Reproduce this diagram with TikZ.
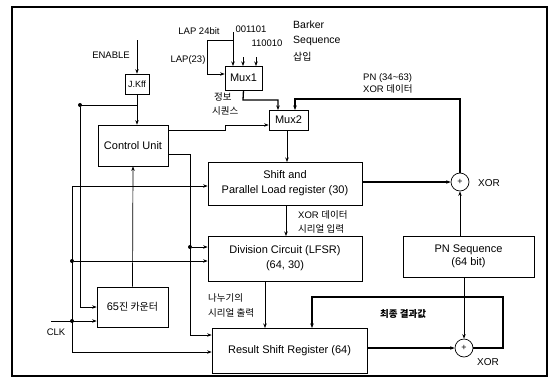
\documentclass[tikz,border=0pt]{standalone}
\usepackage{fontspec}
\setmainfont{Liberation Sans}
\newfontfamily\kr{Noto Sans CJK KR}
\usetikzlibrary{arrows.meta}
\begin{document}
\begin{tikzpicture}[x=1pt,y=-1pt,
  box/.style={draw,line width=0.7pt,inner sep=0pt,align=center,font=\fontsize{11}{14}\selectfont},
  lbl/.style={inner sep=0pt,font=\fontsize{9.5}{11}\selectfont},
  klbl/.style={inner sep=0pt,font=\kr\fontsize{9.5}{11}\selectfont},
  conn/.style={line width=0.7pt},
  tconn/.style={line width=1.3pt},
  arr/.style={-{Stealth[length=4.5pt,width=3.5pt]}},
  xorc/.style={draw,circle,line width=0.7pt,minimum size=18pt,inner sep=0pt,font=\fontsize{9}{9}\selectfont},
  dot/.style={circle,fill,inner sep=0pt,minimum size=4pt}]
\useasboundingbox (0,0) rectangle (551,378);
\draw[line width=1.5pt] (12,7) rectangle (547,376);

% nodes
\node[box,minimum width=24pt,minimum height=20pt,font=\fontsize{9}{10}\selectfont] (jk) at (137,84) {J.Kff};
\node[box,minimum width=70pt,minimum height=41pt] (cu) at (133,145.5) {Control Unit};
\node[box,minimum width=37pt,minimum height=24pt] (mux1) at (243.5,78) {Mux1};
\node[box,minimum width=39pt,minimum height=20pt] (mux2) at (288.5,120) {Mux2};
\node[box,minimum width=154pt,minimum height=43pt,font=\fontsize{11}{15}\selectfont] (spl) at (285,183.5) {Shift and\\Parallel Load register (30)};
\node[box,minimum width=154pt,minimum height=45pt,font=\fontsize{11}{15}\selectfont] (div) at (285,258.5) {Division Circuit (LFSR)\\(64, 30)};
\node[box,minimum width=71pt,minimum height=40pt] (cnt) at (132.5,307) {65{\kr\fontsize{10}{12}\selectfont 진 카운터}};
\node[box,minimum width=155pt,minimum height=45pt] (rsr) at (289.5,350.5) {Result Shift Register (64)};
\node[box,minimum width=131pt,minimum height=41pt,font=\fontsize{11}{12.5}\selectfont] (pn) at (468.5,256.5) {PN Sequence\\(64 bit)};
\node[xorc] (x1) at (460,182) {+};
\node[xorc] (x2) at (464,348) {+};

% labels
\node[lbl] (enl) at (111,55) {ENABLE};
\node[lbl] (lap24) at (199,31) {LAP 24bit};
\node[lbl] (lap23) at (188,60) {LAP(23)};
\node[lbl] (b1) at (251,29) {001101};
\node[lbl] (b2) at (267,43) {110010};
\node[lbl,anchor=west,font=\fontsize{10.5}{12}\selectfont] (bk1) at (293,25) {Barker};
\node[lbl,anchor=west,font=\fontsize{10.5}{12}\selectfont] (bk2) at (293,41) {Sequence};
\node[klbl,anchor=west,font=\kr\fontsize{10}{12}\selectfont] (bk3) at (293,57) {삽입};
\node[klbl,anchor=west] (jb1) at (214,97) {정보};
\node[klbl,anchor=west] (jb2) at (212,111) {시퀀스};
\node[lbl,anchor=west] (pnl1) at (363,78) {PN (34\textasciitilde63)};
\node[lbl,anchor=west] (pnl2) at (363,89) {XOR {\kr\fontsize{9.5}{11}\selectfont 데이터}};
\node[lbl,anchor=west,font=\fontsize{10}{12}\selectfont] (xl1) at (478,183) {XOR};
\node[lbl,anchor=west] (xd1) at (298,215) {XOR {\kr\fontsize{9.5}{11}\selectfont 데이터}};
\node[klbl,anchor=west] (xd2) at (298,229) {시리얼 입력};
\node[klbl,anchor=west] (nd1) at (208,298) {나누기의};
\node[klbl,anchor=west] (nd2) at (208,313) {시리얼 출력};
\node[klbl,anchor=west,font=\kr\bfseries\fontsize{9.5}{11}\selectfont] (fin) at (380,314) {최종 결과값};
\node[lbl,anchor=west,font=\fontsize{10}{12}\selectfont] (xl2) at (477,362) {XOR};
\node[lbl] (clkl) at (56,332) {CLK};

% coordinates
\coordinate (en) at (137,40);
\coordinate (lapin) at (233,32);
\coordinate (clk) at (51,321);

% ENABLE / JK / control
\draw[conn,arr] (en) -- (jk.north);
\draw[conn,arr] (jk.south) -- (jk.south |- cu.north);
\draw[conn] (80,105) -- (137,105);
\node[dot] (d1) at (80,105) {};
\draw[conn,arr] (d1) -- (80,307) -- (cnt.west |- 0,307);
\draw[conn,arr] (cu.east |- 0,130) -- (225,130) -- (225,125) -- (mux2.west |- 0,125);
\draw[conn,arr] (cu.east |- 0,154) -- (190,154) -- (190,335) -- (rsr.west |- 0,335);
\node[dot] (d2) at (190,247) {};
\draw[conn,arr] (d2) -- (div.west |- 0,247);
\draw[conn,arr] (cnt.north) -- (cu.south);

% CLK distribution
\draw[conn,arr] (clk) -- (cnt.west |- 0,321);
\node[dot] (d3) at (72,321) {};
\node[dot] (d4) at (72,261) {};
\draw[conn,arr] (72,352) -- (72,186) -- (spl.west |- 0,186);
\draw[conn,arr] (d4) -- (div.west |- 0,261);
\draw[conn,arr] (72,352) -- (rsr.west |- 0,352);

% Mux1 inputs
\draw[conn,arr] (lapin) -- (233,66);
\draw[conn,arr] (233,40) -- (207,40) -- (207,74) -- (mux1.west |- 0,74);
\draw[conn,arr] (243,57) -- (243,66);
\draw[conn,arr] (256,57) -- (256,66);
\draw[tconn,arr] (mux1.south) -- (243,100) -- (278,100) -- (278,110);
\draw[tconn,arr] (x1.north) -- (460,99) -- (295,99) -- (295,110);
\draw[conn,arr] (287,130) -- (287,162);

% register chain
\draw[tconn,arr] (spl.east |- x1) -- (x1.west);
\draw[conn,arr] (286,205) -- (286,236);
\draw[conn,arr] (pn.north -| x1) -- (x1.south);
\draw[conn,arr] (265,281) -- (265,328);
\draw[conn,arr] (pn.south -| x2) -- (x2.north);
\draw[tconn,arr] (rsr.east |- x2) -- (x2.west);
\draw[tconn,arr] (x2.east) -- (503,348) -- (503,297) -- (312,297) -- (312,328);
\end{tikzpicture}
\end{document}
